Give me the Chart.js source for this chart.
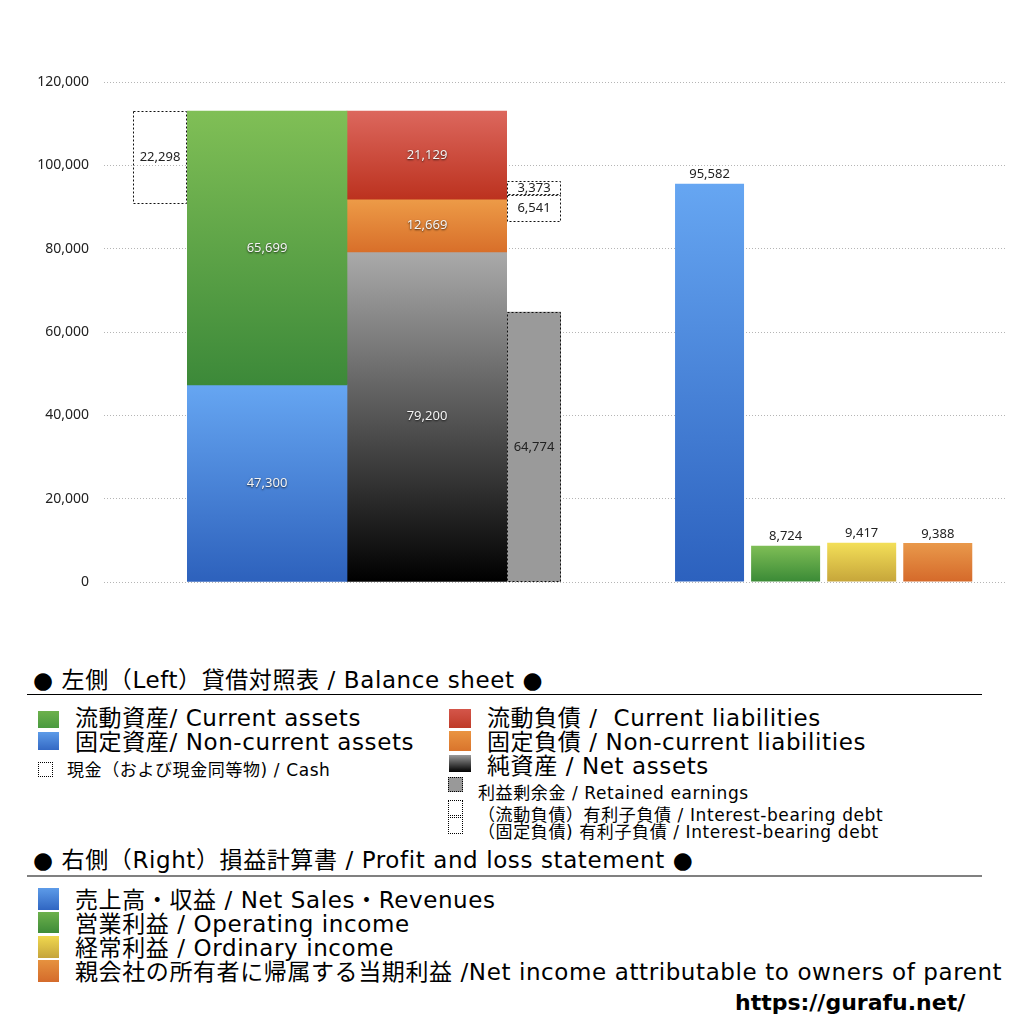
<!DOCTYPE html>
<html>
<head>
<meta charset="utf-8">
<script src="https://cdn.jsdelivr.net/npm/chart.js@4/dist/chart.umd.min.js"></script>
<style>
  html, body { margin: 0; padding: 0; background: #fff; }
  body { width: 1024px; height: 1024px; position: relative; overflow: hidden;
         font-family: "DejaVu Sans", "Noto Sans CJK JP", sans-serif; color: #000; }
  #wrap { position: absolute; left: 0; top: 0; width: 1024px; height: 610px; }
  .t { position: absolute; white-space: nowrap; line-height: 1; transform: translateY(-50%); }
  .big { font-size: 23px; letter-spacing: 0.6px; }
  .small { font-size: 17px; letter-spacing: 0.6px; }
  .sw { position: absolute; }
  .dot { position: absolute; border: 1px dotted #000; box-sizing: border-box; }
  .rule { position: absolute; left: 27px; width: 955px; }
</style>
</head>
<body>
<div id="wrap"><canvas id="c"></canvas></div>

<!-- Legend -->
<div class="t big" style="left:33px; top:680px;">● 左側（Left）貸借対照表 / Balance sheet ●</div>
<div class="rule" style="top:694px; height:1px; background:#000;"></div>

<div class="sw" style="left:38px; top:711px; width:21px; height:17px; background:linear-gradient(#6db14c,#4a9a40);"></div>
<div class="t big" style="left:75px; top:718px;">流動資産/ Current assets</div>
<div class="sw" style="left:38px; top:732px; width:21px; height:18px; background:linear-gradient(#5d9be8,#3469c4);"></div>
<div class="t big" style="left:75px; top:742px;">固定資産/ Non-current assets</div>
<div class="dot" style="left:38px; top:762px; width:15px; height:15px;"></div>
<div class="t small" style="left:67px; top:770px;">現金（および現金同等物) / Cash</div>

<div class="sw" style="left:449px; top:709px; width:22px; height:19px; background:linear-gradient(#d4564a,#bf3a28);"></div>
<div class="t big" style="left:487px; top:718px;">流動負債 /&nbsp; Current liabilities</div>
<div class="sw" style="left:449px; top:731px; width:22px; height:20px; background:linear-gradient(#ea9441,#d9742c);"></div>
<div class="t big" style="left:487px; top:742px;">固定負債 / Non-current liabilities</div>
<div class="sw" style="left:449px; top:755px; width:22px; height:17px; background:linear-gradient(#9a9a9a,#000);"></div>
<div class="t big" style="left:487px; top:766px;">純資産 / Net assets</div>
<div class="dot" style="left:448px; top:777px; width:15px; height:15px; background:#999;"></div>
<div class="t small" style="left:478px; top:793px;">利益剰余金 / Retained earnings</div>
<div class="dot" style="left:448px; top:800px; width:15px; height:16px;"></div>
<div class="t small" style="left:478px; top:815px;">（流動負債）有利子負債 / Interest-bearing debt</div>
<div class="dot" style="left:448px; top:817px; width:15px; height:17px;"></div>
<div class="t small" style="left:478px; top:832px;">（固定負債) 有利子負債 / Interest-bearing debt</div>

<div class="t big" style="left:33px; top:860px;">● 右側（Right）損益計算書 / Profit and loss statement ●</div>
<div class="rule" style="top:875px; height:1.5px; background:#808080;"></div>

<div class="sw" style="left:38px; top:888px; width:21px; height:22px; background:linear-gradient(#5d9be8,#3066c2);"></div>
<div class="t big" style="left:75px; top:900px;">売上高・収益 / Net Sales・Revenues</div>
<div class="sw" style="left:38px; top:912px; width:21px; height:21px; background:linear-gradient(#6db14c,#3e8b38);"></div>
<div class="t big" style="left:75px; top:924px;">営業利益 / Operating income</div>
<div class="sw" style="left:38px; top:936px; width:21px; height:22px; background:linear-gradient(#f0d84e,#c5a43c);"></div>
<div class="t big" style="left:75px; top:948px;">経常利益 / Ordinary income</div>
<div class="sw" style="left:38px; top:960px; width:21px; height:22px; background:linear-gradient(#e6923f,#d46b2b);"></div>
<div class="t big" style="left:75px; top:972px;">親会社の所有者に帰属する当期利益 /Net income attributable to owners of parent</div>

<div class="t" style="left:735px; top:1003px; font-size:22px; font-weight:bold;">https://gurafu.net/</div>

<script>
// ---------------- DATA ----------------
const yTicks = [0, 20000, 40000, 60000, 80000, 100000, 120000];

// Balance sheet (left)
const bsCategories = ['資産 / Assets', '負債・純資産 / Liabilities and net assets'];
const assetValues = [65699, 47300];            // current assets, non-current assets
const liabilityValues = [21129, 12669, 79200]; // current liabilities, non-current liabilities, net assets
const cashCategory = ['現金 / Cash'];
const cashValues = [22298];
const retainedCategory = ['利益剰余金 / Retained earnings'];
const retainedValues = [64774];
const debtValues = [3373, 6541];               // (current) interest-bearing debt, (non-current) interest-bearing debt
const debtBase = [86340];                      // bottom of the debt boxes

// Profit and loss (right)
const plCategories = ['売上高・収益', '営業利益', '経常利益', '親会社の所有者に帰属する当期利益'];
const plValues = [95582, 8724, 9417, 9388];

// ---------------- STYLE ----------------
const plTop = ['#66a6f2', '#7fbe56', '#f3df58', '#e9994b'];
const plBottom = ['#2c61be', '#3a8a36', '#c6a53a', '#d5692a'];

function grad(top, bottom) {
  return (ctx) => {
    const chart = ctx.chart;
    const y = chart.scales.y;
    const raw = ctx.raw;
    if (raw == null || !chart.chartArea || !y) return top;
    const hi = Array.isArray(raw) ? raw[1] : raw;
    const lo = Array.isArray(raw) ? raw[0] : 0;
    const p0 = y.getPixelForValue(hi), p1 = y.getPixelForValue(lo);
    if (!isFinite(p0) || !isFinite(p1) || p0 === p1) return top;
    const g = chart.ctx.createLinearGradient(0, p0, 0, p1);
    g.addColorStop(0, top);
    g.addColorStop(1, bottom);
    return g;
  };
}

// derived stacks
const totalAssets = assetValues[0] + assetValues[1];
const netAssets = liabilityValues[2];
const ncl = liabilityValues[1];
const cl = liabilityValues[0];

const datasets = [
  { label: '流動資産 / Current assets', xAxisID: 'xBS',
    data: [[assetValues[1], totalAssets], null],
    backgroundColor: grad('#80bf56', '#3c8939'), labelMode: 'inside' },
  { label: '固定資産 / Non-current assets', xAxisID: 'xBS',
    data: [[0, assetValues[1]], null],
    backgroundColor: grad('#66a6f2', '#2d61bc'), labelMode: 'inside' },
  { label: '流動負債 / Current liabilities', xAxisID: 'xBS',
    data: [null, [netAssets + ncl, netAssets + ncl + cl]],
    backgroundColor: grad('#dc675d', '#bc321f'), labelMode: 'inside' },
  { label: '固定負債 / Non-current liabilities', xAxisID: 'xBS',
    data: [null, [netAssets, netAssets + ncl]],
    backgroundColor: grad('#ed9b47', '#d86f2a'), labelMode: 'inside' },
  { label: '純資産 / Net assets', xAxisID: 'xBS',
    data: [null, [0, netAssets]],
    backgroundColor: grad('#aaaaaa', '#000000'), labelMode: 'inside' },
  { label: '現金 / Cash', xAxisID: 'xCash',
    data: [[totalAssets - cashValues[0], totalAssets]],
    backgroundColor: 'rgba(255,255,255,0)', dashed: true, labelMode: 'dark' },
  { label: '利益剰余金 / Retained earnings', xAxisID: 'xRet',
    data: [[0, retainedValues[0]]],
    backgroundColor: '#9a9a9a', dashed: true, labelMode: 'dark' },
  { label: '（流動負債）有利子負債', xAxisID: 'xRet',
    data: [[debtBase[0] + debtValues[1], debtBase[0] + debtValues[1] + debtValues[0]]],
    backgroundColor: 'rgba(255,255,255,0)', dashed: true, labelMode: 'dark' },
  { label: '（固定負債）有利子負債', xAxisID: 'xRet',
    data: [[debtBase[0], debtBase[0] + debtValues[1]]],
    backgroundColor: 'rgba(255,255,255,0)', dashed: true, labelMode: 'dark' },
  { label: '損益計算書 / Profit and loss', xAxisID: 'xR',
    data: plValues,
    backgroundColor: (ctx) => grad(plTop[ctx.dataIndex % 4], plBottom[ctx.dataIndex % 4])(ctx),
    barPercentage: 0.907, labelMode: 'above' }
];

// ---------------- PLUGINS ----------------
const outlinePlugin = {
  id: 'outline',
  afterDatasetsDraw(chart) {
    const c = chart.ctx;
    chart.data.datasets.forEach((ds, i) => {
      if (!ds.dashed) return;
      const meta = chart.getDatasetMeta(i);
      meta.data.forEach((el, j) => {
        if (ds.data[j] == null) return;
        const p = el.getProps(['x', 'y', 'base', 'width'], true);
        const left = Math.round(p.x - p.width / 2);
        const right = Math.round(p.x + p.width / 2);
        const top = Math.round(Math.min(p.y, p.base));
        const bot = Math.round(Math.max(p.y, p.base));
        c.save();
        c.setLineDash([2, 2]);
        c.lineWidth = 1;
        c.strokeStyle = '#111';
        c.strokeRect(left + 0.5, top + 0.5, right - left - 1, bot - top - 1);
        c.restore();
      });
    });
  }
};

const labelPlugin = {
  id: 'barLabels',
  afterDatasetsDraw(chart) {
    const c = chart.ctx;
    chart.data.datasets.forEach((ds, i) => {
      const meta = chart.getDatasetMeta(i);
      meta.data.forEach((el, j) => {
        const raw = ds.data[j];
        if (raw == null) return;
        const v = Array.isArray(raw) ? Math.round(raw[1] - raw[0]) : raw;
        const txt = v.toLocaleString('en-US');
        const p = el.getProps(['x', 'y', 'base'], true);
        c.save();
        c.font = '13px "Noto Sans", sans-serif';
        c.textAlign = 'center';
        c.textBaseline = 'middle';
        if (ds.labelMode === 'inside') {
          c.shadowColor = 'rgba(0,0,0,0.75)';
          c.shadowBlur = 2;
          c.shadowOffsetX = 0;
          c.shadowOffsetY = 1;
          c.fillStyle = '#f4f4f4';
          c.fillText(txt, p.x, (p.y + p.base) / 2);
        } else if (ds.labelMode === 'dark') {
          c.fillStyle = '#222';
          c.fillText(txt, p.x, (p.y + p.base) / 2);
        } else {
          c.fillStyle = '#222';
          c.fillText(txt, p.x, p.y - 9);
        }
        c.restore();
      });
    });
  }
};

// ---------------- CHART ----------------
const hiddenPad = (w) => ({ type: 'linear', axis: 'x', position: 'bottom', display: false,
  min: 0, max: 1, stack: 'bands', stackWeight: w });
const hiddenCat = (labels, w) => ({ type: 'category', axis: 'x', position: 'bottom', display: false,
  labels: labels, offset: true, stack: 'bands', stackWeight: w });

new Chart(document.getElementById('c'), {
  type: 'bar',
  data: { datasets },
  options: {
    responsive: true,
    maintainAspectRatio: false,
    animation: false,
    layout: { padding: { top: 82, bottom: 28, left: 0, right: 17 } },
    datasets: { bar: { grouped: false, categoryPercentage: 1, barPercentage: 1, borderWidth: 0 } },
    plugins: { legend: { display: false }, tooltip: { enabled: false }, title: { display: false } },
    scales: {
      y: {
        position: 'left',
        min: 0, max: 120000,
        afterFit: (s) => { s.width = 104; },
        afterBuildTicks: (s) => { s.ticks = yTicks.map(v => ({ value: v })); },
        ticks: {
          padding: 15,
          color: '#222',
          font: { family: '"Noto Sans", sans-serif', size: 14 },
          callback: (v) => Number(v).toLocaleString('en-US')
        },
        grid: { color: '#b5b5b5', drawTicks: false, lineWidth: 1 },
        border: { display: false, dash: [1, 2] }
      },
      padA: hiddenPad(29),
      xCash: hiddenCat(cashCategory, 54),
      xBS: hiddenCat(bsCategories, 320),
      xRet: hiddenCat(retainedCategory, 54),
      gap: hiddenPad(110.5),
      xR: hiddenCat(plCategories, 304.3),
      padB: hiddenPad(31.2)
    }
  },
  plugins: [outlinePlugin, labelPlugin]
});
</script>
</body>
</html>
